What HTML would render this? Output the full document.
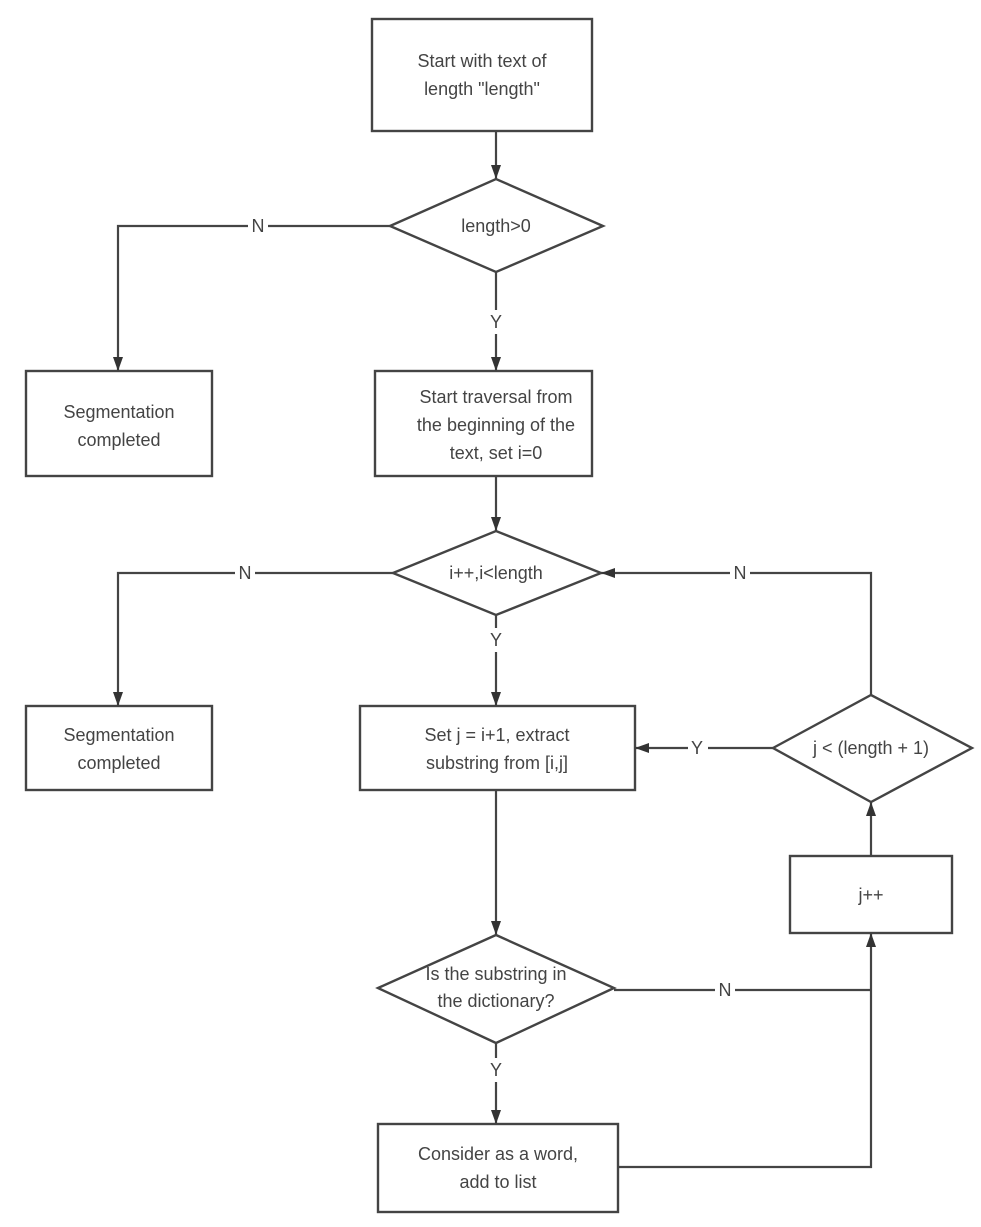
<!DOCTYPE html>
<html><head><style>html,body{margin:0;padding:0;background:#fff}svg{display:block}</style></head>
<body>
<svg width="981" height="1227" viewBox="0 0 981 1227" xmlns="http://www.w3.org/2000/svg" font-family="Liberation Sans, sans-serif" font-size="18" fill="#444">
<defs><marker id="a" viewBox="0 0 10 10" refX="10" refY="5" markerWidth="14" markerHeight="10" orient="auto" markerUnits="userSpaceOnUse" preserveAspectRatio="none"><path d="M0,0L10,5L0,10z" fill="#333"/></marker></defs>
<g stroke="#444" stroke-width="2.4" fill="#fff">
<rect x="372" y="19" width="220" height="112"/>
<polygon points="390,226 496,179 603,226 496,272"/>
<rect x="26" y="371" width="186" height="105"/>
<rect x="375" y="371" width="217" height="105"/>
<polygon points="393,573 496,531 601,573 496,615"/>
<rect x="26" y="706" width="186" height="84"/>
<rect x="360" y="706" width="275" height="84"/>
<polygon points="773,748 871,695 972,748 871,802"/>
<rect x="790" y="856" width="162" height="77"/>
<polygon points="378,988 496,935 614,988 496,1043"/>
<rect x="378" y="1124" width="240" height="88"/>
</g>
<g stroke="#444" stroke-width="2.2" fill="none">
<line x1="496" y1="131" x2="496" y2="179" marker-end="url(#a)"/>
<polyline points="390,226 118,226 118,371" marker-end="url(#a)"/>
<line x1="496" y1="272" x2="496" y2="371" marker-end="url(#a)"/>
<line x1="496" y1="476" x2="496" y2="531" marker-end="url(#a)"/>
<polyline points="393,573 118,573 118,706" marker-end="url(#a)"/>
<line x1="496" y1="615" x2="496" y2="706" marker-end="url(#a)"/>
<polyline points="871,695 871,573 601,573" marker-end="url(#a)"/>
<line x1="773" y1="748" x2="635" y2="748" marker-end="url(#a)"/>
<line x1="871" y1="856" x2="871" y2="802" marker-end="url(#a)"/>
<line x1="496" y1="790" x2="496" y2="935" marker-end="url(#a)"/>
<line x1="614" y1="990" x2="871" y2="990"/>
<polyline points="618,1167 871,1167 871,933" marker-end="url(#a)"/>
<line x1="496" y1="1043" x2="496" y2="1124" marker-end="url(#a)"/>
</g>
<g text-anchor="middle">
<rect x="248" y="214" width="20" height="24" fill="#fff"/><text x="258" y="232">N</text>
<rect x="486" y="310" width="20" height="24" fill="#fff"/><text x="496" y="328">Y</text>
<rect x="235" y="561" width="20" height="24" fill="#fff"/><text x="245" y="579">N</text>
<rect x="486" y="628" width="20" height="24" fill="#fff"/><text x="496" y="646">Y</text>
<rect x="730" y="561" width="20" height="24" fill="#fff"/><text x="740" y="579">N</text>
<rect x="688" y="736" width="20" height="24" fill="#fff"/><text x="697" y="754">Y</text>
<rect x="715" y="978" width="20" height="24" fill="#fff"/><text x="725" y="996">N</text>
<rect x="486" y="1058" width="20" height="24" fill="#fff"/><text x="496" y="1076">Y</text>
<text x="482" y="67">Start with text of</text>
<text x="482" y="95">length "length"</text>
<text x="496" y="232">length&gt;0</text>
<text x="119" y="418">Segmentation</text>
<text x="119" y="446">completed</text>
<text x="496" y="403">Start traversal from</text>
<text x="496" y="431">the beginning of the</text>
<text x="496" y="459">text, set i=0</text>
<text x="496" y="579">i++,i&lt;length</text>
<text x="119" y="741">Segmentation</text>
<text x="119" y="769">completed</text>
<text x="497" y="741">Set j = i+1, extract</text>
<text x="497" y="769">substring from [i,j]</text>
<text x="871" y="754">j &lt; (length + 1)</text>
<text x="871" y="901">j++</text>
<text x="496" y="980">Is the substring in</text>
<text x="496" y="1007">the dictionary?</text>
<text x="498" y="1160">Consider as a word,</text>
<text x="498" y="1188">add to list</text>
</g>
</svg>
</body></html>
